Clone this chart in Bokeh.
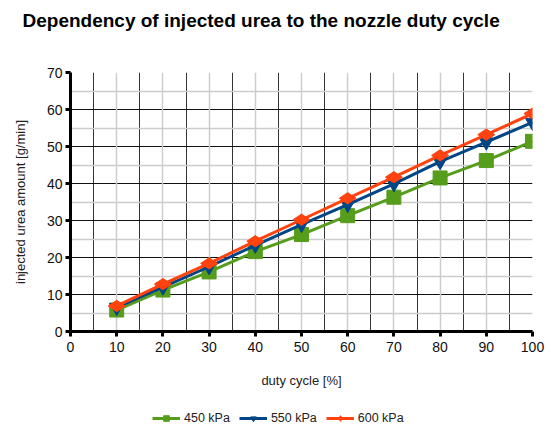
from bokeh.plotting import figure
from bokeh.models import (Range1d, FixedTicker, Grid, Legend, LegendItem, Title)
from bokeh.layouts import column
from bokeh.embed import file_html
from bokeh.resources import INLINE
import math

# ---- data ----
duty_cycle = [10, 20, 30, 40, 50, 60, 70, 80, 90, 100]
kpa_450 = [5.8, 11.2, 16.1, 21.6, 26.2, 31.3, 36.3, 41.5, 46.2, 51.4]
kpa_550 = [6.5, 12.0, 17.5, 23.3, 28.9, 34.3, 39.9, 45.9, 51.2, 56.5]
kpa_600 = [6.9, 12.8, 18.4, 24.4, 30.2, 36.0, 41.7, 47.6, 53.2, 58.9]
series_names = ["450 kPa", "550 kPa", "600 kPa"]
x_ticks = [0, 10, 20, 30, 40, 50, 60, 70, 80, 90, 100]
y_ticks = [0, 10, 20, 30, 40, 50, 60, 70]

title_text = "Dependency of injected urea to the nozzle duty cycle"
x_label = "duty cycle [%]"
y_label = "injected urea amount [g/min]"

GREEN = "#579d1c"
BLUE = "#004586"
ORANGE = "#ff420e"
FONT = "Liberation Sans"


def strip(height, top=0):
    f = figure(width=552, height=height, output_backend="svg", toolbar_location=None,
               x_axis_type=None, y_axis_type=None, x_range=Range1d(0, 1), y_range=Range1d(0, 1),
               min_border_left=0, min_border_right=0, min_border_top=top, min_border_bottom=0)
    f.outline_line_color = None
    f.xgrid.visible = False
    f.ygrid.visible = False
    f.background_fill_color = "white"
    f.border_fill_color = "white"
    return f


# ---- title strip ----
tf = strip(40, top=39)
tf.title = Title(text=title_text, text_font=FONT, text_font_size="19px",
                 text_font_style="bold", align="left", offset=-48, standoff=20,
                 text_color="black")

# ---- main chart ----
p = figure(width=552, height=360, output_backend="svg", toolbar_location=None,
           x_range=Range1d(0, 100), y_range=Range1d(0, 70),
           min_border_left=70, min_border_right=20, min_border_top=32, min_border_bottom=69)
p.outline_line_color = None
p.background_fill_color = "white"
p.border_fill_color = "white"

# grids: dark major, light minor
p.xgrid.ticker = FixedTicker(ticks=[5, 15, 25, 35, 45, 55, 65, 75, 85, 95])
p.xgrid.grid_line_color = "#333333"
p.xgrid.grid_line_width = 1
p.ygrid.ticker = FixedTicker(ticks=[10, 20, 30, 40, 50, 60, 70])
p.ygrid.grid_line_color = "#111111"
p.ygrid.grid_line_width = 1
p.add_layout(Grid(dimension=0, ticker=FixedTicker(ticks=[10, 20, 30, 40, 50, 60, 70, 80, 90, 100]),
                  grid_line_color="#cccccc", grid_line_width=1.5))
p.add_layout(Grid(dimension=1, ticker=FixedTicker(ticks=[5, 15, 25, 35, 45, 55, 65]),
                  grid_line_color="#cccccc", grid_line_width=1.5))

for ax, ticks in ((p.xaxis[0], x_ticks), (p.yaxis[0], y_ticks)):
    ax.ticker = FixedTicker(ticks=ticks)
    ax.axis_line_width = 3
    ax.axis_line_color = "black"
    ax.major_tick_line_width = 3
    ax.major_tick_line_color = "black"
    ax.major_tick_out = 5
    ax.major_tick_in = 0
    ax.minor_tick_line_color = None
    ax.major_label_text_font = FONT
    ax.major_label_text_font_size = "14px"
    ax.major_label_text_color = "#111111"
    ax.axis_label_text_font = FONT
    ax.axis_label_text_font_size = "13px"
    ax.axis_label_text_font_style = "normal"
    ax.axis_label_text_color = "#222222"

p.xaxis.axis_label = x_label
p.yaxis.axis_label = y_label
p.xaxis.major_label_standoff = 5
p.xaxis.axis_label_standoff = 18
p.yaxis.major_label_standoff = 3
p.yaxis.axis_label_standoff = 16

series = [(kpa_450, GREEN, "square", 14, 0.0),
          (kpa_550, BLUE, "inverted_triangle", 14, 0.0),
          (kpa_600, ORANGE, "diamond", 17, math.pi / 2)]
for vals, col, marker, size, ang in series:
    p.line(duty_cycle, vals, line_color=col, line_width=3)
    p.scatter(duty_cycle, vals, marker=marker, size=size, angle=ang,
              fill_color=col, line_color=col)

# ---- legend strip: its frame hosts the legend; sample glyphs sit outside its ranges ----
lg = strip(25)
items = []
for (vals, col, marker, size, ang), name in zip(series, series_names):
    ln = lg.line([2, 3], [2, 2], line_color=col, line_width=3)
    sc = lg.scatter([2], [2], marker=marker, size=8, angle=ang,
                    fill_color=col, line_color=col)
    items.append(LegendItem(label=name, renderers=[ln, sc]))
legend = Legend(items=items, orientation="horizontal", location=(82, 0),
                glyph_width=28, glyph_height=14, label_standoff=4, spacing=9,
                padding=0, margin=0, border_line_color=None, background_fill_alpha=0,
                label_text_font=FONT, label_text_font_size="12.5px",
                label_text_color="#222222", label_height=14)
lg.add_layout(legend, "center")

layout = column(tf, p, lg, spacing=0)
open("out.html", "w").write(file_html(layout, INLINE))
